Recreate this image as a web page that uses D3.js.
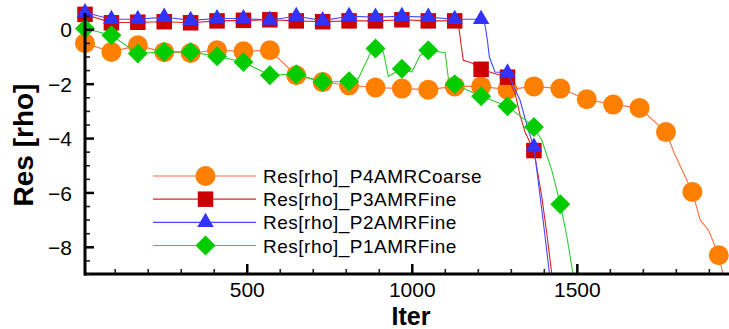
<!DOCTYPE html>
<html>
<head>
<meta charset="utf-8">
<script src="https://cdn.jsdelivr.net/npm/d3@7/dist/d3.min.js"></script>
<style>
  html, body { margin: 0; padding: 0; background: #fff; }
  svg { display: block; font-family: "Liberation Sans", Arial, Helvetica, sans-serif; }
</style>
</head>
<body>
<svg id="chart" width="729" height="329"></svg>
<script>
// marker iterations (every 80 iters)
const markerIters = [10, 90, 170, 250, 330, 410, 490, 570, 650, 730, 810, 890, 970,
  1050, 1130, 1210, 1290, 1370, 1450, 1530, 1610, 1690, 1770, 1850, 1930];

// residual values at the marker iterations
const p4CoarseVals = [-0.51, -0.83, -0.59, -0.84, -0.87, -0.77, -0.81, -0.77, -1.69, -1.94,
  -2.06, -2.14, -2.18, -2.22, -2.10, -2.10, -2.22, -2.10, -2.18, -2.57, -2.77, -2.89,
  -3.78, -5.98, -8.31];
const p3FineVals = [0.55, 0.24, 0.26, 0.28, 0.24, 0.31, 0.33, 0.35, 0.31, 0.28, 0.31, 0.31,
  0.35, 0.31, 0.31, -1.47, -1.76, -4.46];
const p2FineVals = [0.62, 0.37, 0.37, 0.45, 0.33, 0.40, 0.40, 0.34, 0.48, 0.32, 0.48, 0.45,
  0.48, 0.45, 0.37, 0.37, -1.60, -4.33];
const p1FineVals = [0.03, -0.22, -0.89, -0.83, -0.83, -0.99, -1.20, -1.69, -1.65, -1.94,
  -1.91, -0.71, -1.45, -0.77, -2.02, -2.46, -2.83, -3.59, -6.43];

// extra line points between markers [iter, value]
const p4CoarseExtra = [[1795, -4.55], [1874, -7.02], [1899, -7.39], [1950, -9.4]];
const p3FineExtra = [[1143, 0.03], [1149, -0.53], [1156, -1.14], [1182, -1.24], [1268, -1.69],
  [1313, -2.36], [1328, -3.16], [1343, -3.78], [1394, -6.17], [1409, -7.51], [1424, -8.98], [1432, -9.4]];
const p2FineExtra = [[1222, 0.15], [1229, -0.40], [1235, -1.02], [1252, -1.57], [1328, -2.61],
  [1353, -3.71], [1399, -7.14], [1417, -8.98], [1425, -9.4]];
const p1FineExtra = [[838, -1.81], [874, -0.89], [914, -0.83], [929, -1.73], [1000, -1.57],
  [1025, -0.96], [1101, -0.86], [1111, -1.81], [1394, -4.08], [1424, -5.18], [1470, -7.63],
  [1488, -8.98], [1495, -9.4]];

const seriesNames = ['Res[rho]_P4AMRCoarse', 'Res[rho]_P3AMRFine', 'Res[rho]_P2AMRFine', 'Res[rho]_P1AMRFine'];

const xMajorTicks = [500, 1000, 1500];
const yMajorTicks = [0, -2, -4, -6, -8];

const series = [
  { name: seriesNames[0], vals: p4CoarseVals, extra: p4CoarseExtra, fill: '#ff8000', line: '#ff7040', shape: 'circle' },
  { name: seriesNames[1], vals: p3FineVals, extra: p3FineExtra, fill: '#cc0000', line: '#e02020', shape: 'square' },
  { name: seriesNames[2], vals: p2FineVals, extra: p2FineExtra, fill: '#3333ff', line: '#4848ff', shape: 'triangle' },
  { name: seriesNames[3], vals: p1FineVals, extra: p1FineExtra, fill: '#00cc00', line: '#30cc30', shape: 'diamond' }
];

const svg = d3.select('#chart');
const x = d3.scaleLinear().domain([10, 1961]).range([85, 729]);
const y = d3.scaleLinear().domain([-9, 0.6]).range([274, 13]);

const symbolPath = {
  circle: d3.symbol(d3.symbolCircle, 314)(),
  square: d3.symbol(d3.symbolSquare, 240)(),
  triangle: d3.symbol(d3.symbolTriangle, 118)(),
  diamond: d3.symbol(d3.symbolSquare, 200)()
};
const symbolRot = { circle: 0, square: 0, triangle: 0, diamond: 45 };

svg.append('defs').append('clipPath').attr('id', 'plotClip')
  .append('rect').attr('x', 85).attr('y', 0).attr('width', 644).attr('height', 274);

const line = d3.line().x(d => x(d[0])).y(d => y(d[1]));

const plot = svg.append('g');

series.forEach(s => {
  const markers = s.vals.map((v, i) => [markerIters[i], v]);
  const pts = markers.concat(s.extra).sort((a, b) => a[0] - b[0]);

  plot.append('path')
    .attr('clip-path', 'url(#plotClip)')
    .attr('d', line(pts))
    .attr('fill', 'none')
    .attr('stroke', s.line)
    .attr('stroke-width', 1.1);

  plot.append('g')
    .selectAll('path')
    .data(markers)
    .join('path')
    .attr('d', symbolPath[s.shape])
    .attr('transform', d => `translate(${x(d[0])},${y(d[1])}) rotate(${symbolRot[s.shape]})`)
    .attr('fill', s.fill);
});

// Axes (drawn on top, ticks point inward)
const xMinor = d3.range(100, 2000, 100).filter(v => !xMajorTicks.includes(v));
const yMinor = d3.range(-9, 0.6, 0.5).filter(v => !yMajorTicks.includes(v));

const xAxisG = svg.append('g').attr('transform', 'translate(0,274)');
xAxisG.append('g')
  .call(d3.axisBottom(x).tickValues(xMinor).tickSize(-5).tickFormat(''))
  .call(g => g.selectAll('line').attr('stroke', '#222').attr('stroke-width', 1.6))
  .call(g => g.select('.domain').remove());
xAxisG.append('g')
  .call(d3.axisBottom(x).tickValues(xMajorTicks).tickSize(-10).tickPadding(8).tickFormat(d3.format('d')))
  .call(g => g.selectAll('line').attr('stroke', '#000').attr('stroke-width', 2.5))
  .call(g => g.select('.domain').remove())
  .call(g => g.selectAll('text').attr('font-size', 21).attr('fill', '#000')
    .attr('font-family', '"Liberation Sans", Arial, sans-serif'));
xAxisG.append('line').attr('x1', 84).attr('x2', 729).attr('y1', 0).attr('y2', 0)
  .attr('stroke', '#000').attr('stroke-width', 3);

const yAxisG = svg.append('g').attr('transform', 'translate(85,0)');
yAxisG.append('g')
  .call(d3.axisLeft(y).tickValues(yMinor).tickSize(-5).tickFormat(''))
  .call(g => g.selectAll('line').attr('stroke', '#222').attr('stroke-width', 1.6))
  .call(g => g.select('.domain').remove());
yAxisG.append('g')
  .call(d3.axisLeft(y).tickValues(yMajorTicks).tickSize(-9).tickPadding(13).tickFormat(d3.format('d')))
  .call(g => g.selectAll('line').attr('stroke', '#000').attr('stroke-width', 2.5))
  .call(g => g.select('.domain').remove())
  .call(g => g.selectAll('text').attr('font-size', 21).attr('fill', '#000').attr('dy', '0.36em')
    .attr('font-family', '"Liberation Sans", Arial, sans-serif'));
yAxisG.append('line').attr('x1', 0).attr('x2', 0).attr('y1', 13).attr('y2', 275.5)
  .attr('stroke', '#000').attr('stroke-width', 3);

// Axis titles
svg.append('text')
  .attr('transform', 'translate(33,145) rotate(-90)')
  .attr('text-anchor', 'middle')
  .attr('font-size', 28).attr('font-weight', 'bold')
  .text('Res [rho]');
svg.append('text')
  .attr('x', 411).attr('y', 325)
  .attr('text-anchor', 'middle')
  .attr('font-size', 25).attr('font-weight', 'bold')
  .text('Iter');

// Legend
const legendRowY = d3.scalePoint().domain(seriesNames).range([176, 245.5]);
const legend = svg.append('g');
series.forEach(s => {
  const ly = legendRowY(s.name);
  legend.append('line').attr('x1', 153).attr('x2', 256).attr('y1', ly).attr('y2', ly)
    .attr('stroke', s.line).attr('stroke-width', 1.1);
  legend.append('path').attr('d', symbolPath[s.shape])
    .attr('transform', `translate(205.5,${ly}) rotate(${symbolRot[s.shape]})`)
    .attr('fill', s.fill);
  legend.append('text').attr('x', 263).attr('y', ly + 7)
    .attr('font-size', 19).attr('letter-spacing', '0.5px').attr('fill', '#000')
    .text(s.name);
});
</script>
</body>
</html>
